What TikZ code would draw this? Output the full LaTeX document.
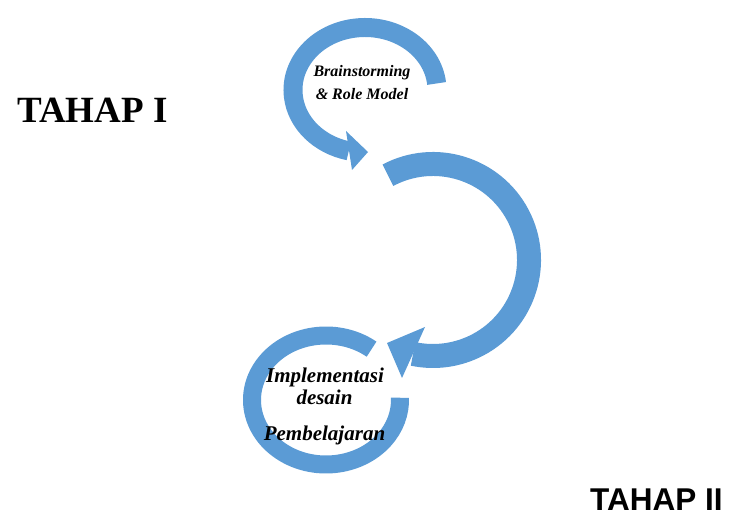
\documentclass[tikz,border=0pt]{standalone}
\usepackage{fontspec}
\setmainfont{Liberation Serif}
\newfontfamily\arialf{Liberation Sans}
\definecolor{arrowblue}{RGB}{91,155,213}
\begin{document}
\begin{tikzpicture}[x=1pt,y=1pt,
  band/.style={draw=arrowblue, line cap=butt},
  headfill/.style={fill=arrowblue, draw=none},
  lbl/.style={inner sep=0pt, anchor=base},
  smalltxt/.style={lbl, font=\fontsize{16}{19}\selectfont\bfseries\itshape},
  bigtxt/.style={lbl, font=\fontsize{21}{24}\selectfont\bfseries\itshape},
]
\useasboundingbox (0,0) rectangle (731,517);

% top circular arrow
\draw[band, line width=19pt, shift={(365,427)}] (6:72 and 62.5) arc[start angle=6, end angle=257, x radius=72, y radius=62.5];
\coordinate (t1) at (346,386);
\coordinate (t2) at (368,365);
\coordinate (t3) at (352,347);
\fill[headfill] (t1) -- (t2) -- (t3) -- cycle;

% big middle arrow
\draw[band, line width=24pt, shift={(433,257)}] (118:96) arc[start angle=118, end angle=-102, radius=96];
\coordinate (b1) at (425,190);
\coordinate (b2) at (387,174);
\coordinate (b3) at (402,139);
\fill[headfill] (b1) -- (b2) -- (b3) -- cycle;

% bottom ring
\draw[band, line width=18pt, shift={(326,117)}] (52:74 and 64.5) arc[start angle=52, end angle=362, x radius=74, y radius=64.5];

% texts
\node[smalltxt] (bs1) at (362,440) {Brainstorming};
\node[smalltxt] (bs2) at (362,417) {\& Role Model};
\node[bigtxt] (im1) at (325,134) {Implementasi};
\node[bigtxt] (im2) at (324.5,112) {desain};
\node[bigtxt] (im3) at (324.5,77) {Pembelajaran};
\node[inner sep=0pt, anchor=base west, font=\fontsize{37}{40}\selectfont\bfseries] (th1) at (17,394) {TAHAP I};
\node[inner sep=0pt, anchor=base west, font=\arialf\fontsize{31.5}{34}\selectfont\bfseries] (th2) at (590,7) {TAHAP II};
\end{tikzpicture}
\end{document}
